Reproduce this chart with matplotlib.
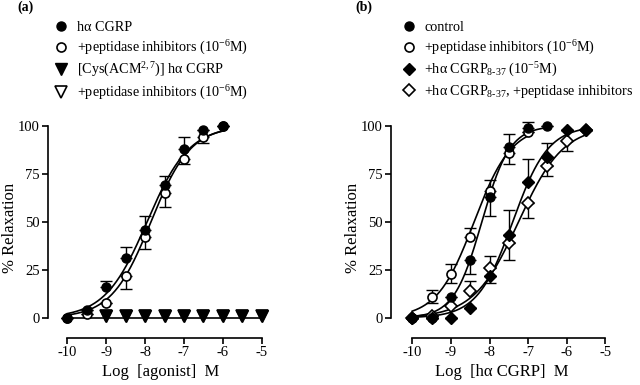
import matplotlib.pyplot as plt
import numpy as np

plt.rcParams['font.family'] = ['Liberation Serif', 'DejaVu Serif']
plt.rcParams['mathtext.fontset'] = 'custom'
plt.rcParams['mathtext.rm'] = 'Liberation Serif'
plt.rcParams['mathtext.it'] = 'Liberation Serif:italic'

# ---- panel (a) ----
a_x = [-10, -9.5, -9, -8.5, -8, -7.5, -7, -6.5, -6]
a_cgrp = [0, 4, 16, 31, 46, 69, 88, 98, 100]
a_cgrp_up = [0, 0, 3, 6, 7, 5, 6, 0, 0]
a_pi = [0, 2, 8, 22, 42, 65, 83, 94, 100]
a_pi_dn = [0, 0, 0, 7, 6, 7, 3, 3, 0]
a_tri_x = [-9, -8.5, -8, -7.5, -7, -6.5, -6, -5.5, -5]
a_cys = [1, 1, 1, 1, 1, 1, 1, 1, 1]
a_cys_pi = [1, 1, 1, 1, 1, 1, 1, 1, 1]
# fitted curves (log EC50, Hill slope)
a_ec50 = [-7.95, -7.85]
a_hill = [0.8, 0.85]

# ---- panel (b) ----
b_x_ctl = [-10, -9.5, -9, -8.5, -8, -7.5, -7, -6.5]
b_ctl = [0, 0, 11, 30, 63, 89, 99, 100]
b_ctl_dn = [0, 0, 0, 7, 10, 0, 0, 0]
b_ctl_up = [0, 0, 0, 0, 0, 7, 3, 0]
b_x_pi = [-10, -9.5, -9, -8.5, -8, -7.5, -7]
b_pi = [0, 11, 23, 42, 66, 86, 97]
b_pi_dn = [0, 3.5, 5, 0, 0, 6, 0]
b_pi_up = [0, 3.5, 5, 5, 6, 0, 0]
b_x_ant = [-10, -9.5, -9, -8.5, -8, -7.5, -7, -6.5, -6, -5.5]
b_ant = [0, 0, 0, 5, 22, 43, 71, 84, 98, 98]
b_ant_dn = [0, 0, 0, 0, 4, 0, 0, 0, 0, 0]
b_ant_up = [0, 0, 0, 0, 0, 13, 12, 7, 0, 0]
b_antpi = [0, 1, 6, 14, 26, 39, 60, 79, 92, 98]
b_antpi_dn = [0, 0, 0, 0, 0, 9, 8, 5, 5, 0]
b_antpi_up = [0, 0, 0, 5, 6, 0, 0, 0, 0, 0]
b_ec50 = [-8.2, -8.4, -7.4, -7.25]
b_hill = [1.2, 0.9, 0.95, 0.75]


def hill(x, ec50, n):
    return 100 / (1 + 10 ** (n * (ec50 - x)))


def style_axes(ax, xlim, xlabel):
    ax.set_xlim(*xlim)
    ax.set_ylim(-10.5, 104)
    for s in ['top', 'right']:
        ax.spines[s].set_visible(False)
    ax.spines['left'].set_bounds(0, 100)
    ax.spines['bottom'].set_bounds(-10, -5)
    for s in ['left', 'bottom']:
        ax.spines[s].set_linewidth(1.2)
    ax.set_xticks([-10, -9, -8, -7, -6, -5])
    ax.set_xticklabels(['-10', '-9', '-8', '-7', '-6', '-5'])
    ax.set_yticks([0, 25, 50, 75, 100])
    ax.tick_params(labelsize=10.5, width=1.2, length=4, pad=2)
    ax.set_xlabel(xlabel, fontsize=12, labelpad=3)
    ax.set_ylabel('% Relaxation', fontsize=12, labelpad=0)


fig = plt.figure(figsize=(6.4, 3.85), dpi=100)
ax1 = fig.add_axes([0.075, 0.122, 0.352, 0.571])
ax2 = fig.add_axes([0.611, 0.122, 0.347, 0.571])

ms = 6.5
eb = dict(ecolor='k', elinewidth=1, capsize=4, capthick=1, linestyle='none')
leg_kw = dict(loc='upper left', bbox_transform=fig.transFigure, frameon=False,
              fontsize=10.2, handlelength=1.2, handletextpad=0.5,
              labelspacing=0.3, borderpad=0, borderaxespad=0)

# panel (a)
xs = np.linspace(-10, -6, 200)
ax1.plot(xs, hill(xs, a_ec50[0], a_hill[0]), 'k-', lw=1.2)
ax1.plot(xs, hill(xs, a_ec50[1], a_hill[1]), 'k-', lw=1.2)
ax1.plot([-10, -5], [0, 0], 'k-', lw=1.2)
ax1.errorbar(a_x, a_pi, yerr=[a_pi_dn, np.zeros(len(a_x))], **eb)
ax1.errorbar(a_x, a_cgrp, yerr=[np.zeros(len(a_x)), a_cgrp_up], **eb)
h_a2, = ax1.plot(a_x, a_pi, 'o', ms=ms, mfc='white', mec='k', mew=1.2)
h_a1, = ax1.plot(a_x, a_cgrp, 'o', ms=ms, mfc='k', mec='k')
h_a4, = ax1.plot(a_tri_x, a_cys_pi, 'v', ms=8.5, mfc='white', mec='k', mew=1.2)
h_a3, = ax1.plot(a_tri_x, a_cys, 'v', ms=8.5, mfc='k', mec='k')
style_axes(ax1, (-10.5, -4.7), 'Log  [agonist]  M')

ax1.legend([h_a1, h_a2, h_a3, h_a4],
           ['h\u03b1 CGRP', '+peptidase inhibitors (10$^{-6}$M)',
            '[Cys(ACM$^{2,7}$)] h\u03b1 CGRP', '+peptidase inhibitors (10$^{-6}$M)'],
           bbox_to_anchor=(0.082, 0.945), **leg_kw)
fig.text(0.027, 0.98, '(a)', fontsize=10, fontweight='bold', va='center')

# panel (b)
xs = np.linspace(-10, -6.5, 200)
ax2.plot(xs, hill(xs, b_ec50[0], b_hill[0]), 'k-', lw=1.2)
xs = np.linspace(-10, -7, 200)
ax2.plot(xs, hill(xs, b_ec50[1], b_hill[1]), 'k-', lw=1.2)
xs = np.linspace(-10, -5.5, 200)
ax2.plot(xs, hill(xs, b_ec50[2], b_hill[2]), 'k-', lw=1.2)
ax2.plot(xs, hill(xs, b_ec50[3], b_hill[3]), 'k-', lw=1.2)
ax2.errorbar(b_x_ctl, b_ctl, yerr=[b_ctl_dn, b_ctl_up], **eb)
ax2.errorbar(b_x_pi, b_pi, yerr=[b_pi_dn, b_pi_up], **eb)
ax2.errorbar(b_x_ant, b_ant, yerr=[b_ant_dn, b_ant_up], **eb)
ax2.errorbar(b_x_ant, b_antpi, yerr=[b_antpi_dn, b_antpi_up], **eb)
h_b4, = ax2.plot(b_x_ant, b_antpi, 'D', ms=6.3, mfc='white', mec='k', mew=1.2)
h_b3, = ax2.plot(b_x_ant, b_ant, 'D', ms=6.3, mfc='k', mec='k')
h_b2, = ax2.plot(b_x_pi, b_pi, 'o', ms=ms, mfc='white', mec='k', mew=1.2)
h_b1, = ax2.plot(b_x_ctl, b_ctl, 'o', ms=ms, mfc='k', mec='k')
style_axes(ax2, (-10.55, -4.8), 'Log  [h\u03b1 CGRP]  M')

ax2.legend([h_b1, h_b2, h_b3, h_b4],
           ['control', '+peptidase inhibitors (10$^{-6}$M)',
            '+h\u03b1 CGRP$_{\\text{8-37}}$ (10$^{-5}$M)',
            '+h\u03b1 CGRP$_{\\text{8-37}}$, +peptidase inhibitors'],
           bbox_to_anchor=(0.625, 0.945), **leg_kw)
fig.text(0.555, 0.98, '(b)', fontsize=10, fontweight='bold', va='center')

fig.savefig('out.png', dpi=100)
